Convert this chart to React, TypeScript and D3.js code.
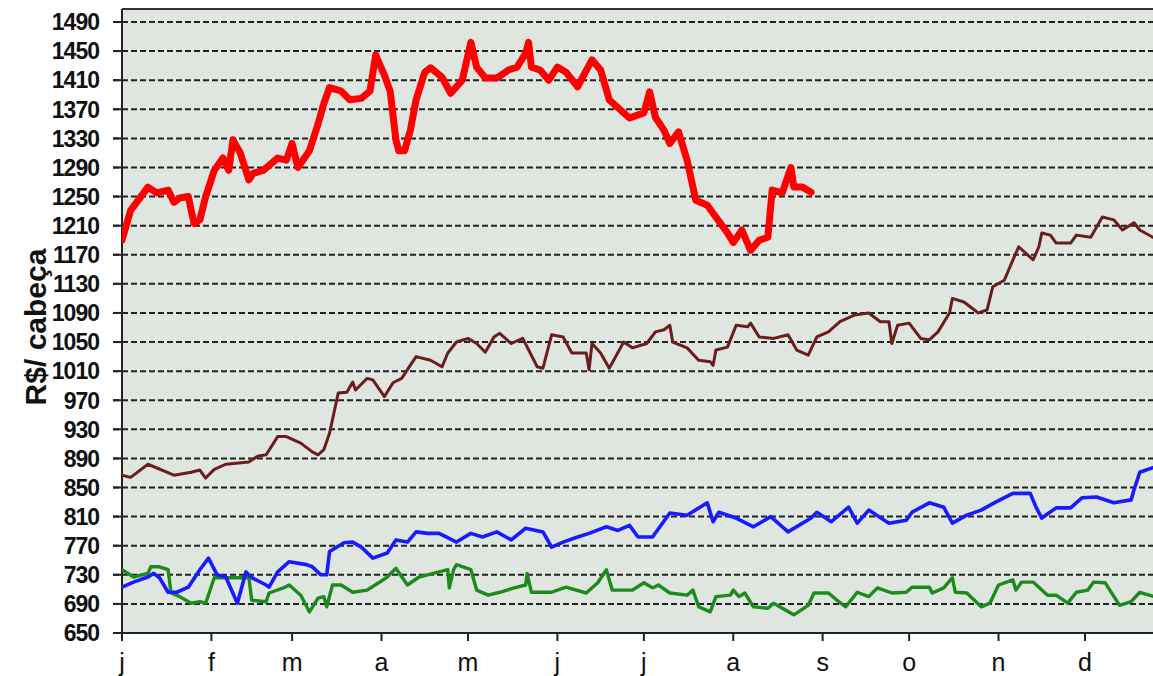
import React from "react";
import * as d3 from "d3";

// x = day of year (0 = 1 Jan), y = R$/cabeça
const monthLabels = ["j", "f", "m", "a", "m", "j", "j", "a", "s", "o", "n", "d"];
const monthStartDays = [0, 31, 59, 90, 120, 151, 181, 212, 243, 273, 304, 334];
const yTicks = d3.range(650, 1491, 40);

const redSeries: [number, number][] = [
  [0, 1190], [3, 1231], [9, 1263], [12, 1255], [16, 1259], [18, 1242], [20, 1248], [23, 1250], [24, 1231],
  [25, 1213], [27, 1218], [29, 1250], [32, 1286], [35, 1303], [37, 1286], [38.5, 1328], [41, 1310], [44, 1273],
  [45.5, 1282], [49, 1286], [54, 1303], [57, 1300], [59, 1323], [61, 1290], [65, 1313], [68, 1350], [70, 1378],
  [72, 1400], [76, 1395], [79, 1383], [83, 1385], [86, 1395], [88, 1445], [89, 1435], [91, 1417], [93, 1395],
  [95, 1328], [96, 1313], [98, 1313], [100, 1341], [102, 1383], [105, 1421], [107, 1427], [111, 1414],
  [114, 1392], [118, 1410], [121, 1462], [123, 1428], [126, 1413], [130, 1413], [134, 1424], [137, 1428],
  [140, 1447], [141, 1462], [142, 1428], [145, 1424], [148, 1410], [151, 1428], [154, 1421], [158, 1401],
  [163, 1438], [166, 1424], [169, 1383], [176, 1358], [181, 1365], [183, 1394], [185, 1359], [188, 1341],
  [190, 1323], [193, 1339], [196, 1300], [199, 1245], [203, 1238], [205, 1227], [210, 1200], [212, 1187],
  [215, 1204], [218, 1176], [221, 1190], [224, 1194], [225.5, 1259], [229, 1255], [232, 1290], [233, 1263],
  [236, 1263], [239, 1256],
];

const brownSeries: [number, number][] = [
  [0, 867], [3, 864], [9, 882], [18, 867], [24, 871], [27, 874], [29, 863], [32, 875], [36, 882], [44, 885],
  [47, 893], [50, 895], [54, 920], [57, 920], [62, 911], [66, 899], [68, 895], [70, 902], [72, 925], [75, 980],
  [78, 981], [80, 995], [81, 984], [85, 1000], [87, 998], [91, 975], [94, 994], [97, 1000], [99, 1012],
  [102, 1030], [107, 1025], [111, 1016], [113, 1035], [116, 1050], [120, 1055], [123, 1048], [126, 1036],
  [129, 1057], [131, 1062], [135, 1048], [139, 1055], [144, 1016], [146, 1014], [149, 1060], [153, 1057],
  [156, 1035], [161, 1035], [162, 1012], [163, 1048], [166, 1035], [169, 1014], [174, 1050], [177, 1042],
  [182, 1048], [185, 1064], [188, 1067], [190, 1073], [191, 1050], [196, 1042], [200, 1025], [204, 1023],
  [205, 1018], [206, 1039], [210, 1043], [213, 1073], [217, 1071], [218, 1076], [221, 1057], [226, 1055],
  [231, 1060], [234, 1039], [238, 1032], [241, 1057], [245, 1064], [249, 1078], [254, 1087], [259, 1090],
  [263, 1078], [266, 1078], [267, 1048], [269, 1073], [273, 1076], [277, 1055], [280, 1053], [283, 1064],
  [287, 1090], [288, 1110], [292, 1105], [297, 1090], [300, 1094], [302, 1126], [306, 1135], [309, 1163],
  [311, 1181], [316, 1163], [318, 1181], [319, 1200], [322, 1197], [324, 1186], [329, 1186], [331, 1197],
  [336, 1194], [338, 1208], [340, 1222], [344, 1218], [347, 1204], [351, 1214], [353, 1204], [358, 1193],
];

const blueSeries: [number, number][] = [
  [0, 713], [4, 720], [9, 727], [11, 732], [13, 726], [16, 706], [19, 706], [23, 713], [27, 737], [30, 753],
  [33, 730], [36, 727], [40, 691], [43, 734], [45, 726], [50, 716], [51, 713], [54, 734], [58, 748], [64, 744],
  [66, 741], [69, 730], [71, 730], [72, 762], [77, 774], [80, 775], [83, 768], [87, 753], [92, 760], [95, 778],
  [99, 775], [102, 789], [106, 787], [110, 787], [116, 775], [121, 787], [125, 782], [130, 789], [135, 778],
  [140, 794], [146, 789], [149, 768], [153, 775], [158, 782], [162, 787], [168, 796], [172, 791], [176, 798],
  [179, 782], [184, 782], [190, 815], [196, 812], [203, 829], [205, 803], [207, 816], [213, 808], [219, 796],
  [225, 810], [231, 789], [239, 808], [241, 816], [246, 803], [252, 823], [255, 801], [259, 819], [266, 801],
  [272, 805], [274, 816], [280, 829], [285, 823], [288, 801], [293, 812], [298, 819], [303, 830], [309, 842],
  [315, 842], [317, 823], [319, 808], [324, 822], [329, 822], [333, 836], [338, 837], [344, 829], [350, 833],
  [351, 847], [353, 871], [358, 878],
];

const greenSeries: [number, number][] = [
  [0, 737], [4, 727], [9, 732], [10, 741], [13, 741], [16, 737], [17, 705], [20, 700], [24, 691], [27, 693],
  [29, 691], [32, 726], [44, 726], [45, 695], [50, 693], [51, 705], [56, 712], [58, 716], [62, 702], [65, 679],
  [68, 698], [70, 700], [71, 686], [73, 716], [76, 716], [80, 706], [85, 709], [89, 719], [92, 727], [95, 739],
  [99, 716], [103, 727], [108, 732], [113, 737], [113.5, 712], [115, 737], [116, 744], [121, 737], [123, 709],
  [127, 702], [131, 706], [136, 712], [140, 716], [140.5, 732], [142, 706], [149, 706], [154, 713], [161, 705],
  [165, 719], [168, 737], [170, 709], [177, 709], [181, 719], [184, 712], [186, 716], [190, 705], [196, 702],
  [198, 709], [200, 686], [204, 679], [206, 700], [211, 702], [212, 709], [214, 700], [216, 705], [219, 686],
  [224, 684], [226, 691], [229, 684], [233, 675], [238, 688], [240, 705], [245, 705], [248, 695], [251, 686],
  [255, 706], [259, 700], [262, 712], [267, 705], [272, 706], [274, 713], [280, 713], [281, 705], [285, 712],
  [288, 726], [289, 706], [293, 705], [298, 686], [301, 691], [304, 716], [309, 723], [310, 709], [312, 720],
  [316, 720], [321, 702], [324, 702], [328, 691], [331, 706], [335, 709], [337, 720], [341, 719], [346, 688],
  [350, 693], [353, 706], [358, 700],
];

const W = 1153;
const H = 676;
const plotLeft = 122;
const plotTop = 9;
const plotBottom = 633;

export default function App() {
  const x = d3.scaleLinear().domain([0, 365]).range([plotLeft, plotLeft + 12 * 87.7]);
  const y = d3.scaleLinear().domain([650, 1490]).range([plotBottom, 22]);
  const line = d3
    .line<[number, number]>()
    .x((d) => x(d[0]))
    .y((d) => y(d[1]))
    .curve(d3.curveLinear);

  const series = [
    { data: brownSeries, color: "#6b1d1d", width: 3 },
    { data: greenSeries, color: "#1c8a1c", width: 3.4 },
    { data: blueSeries, color: "#1a1aff", width: 3.6 },
    { data: redSeries, color: "#ff0000", width: 7 },
  ];

  return (
    <svg
      width={W}
      height={H}
      style={{ position: "absolute", left: 0, top: 0, background: "#ffffff" }}
      fontFamily="'Liberation Sans', Arial, sans-serif"
    >
      <defs>
        <clipPath id="plotClip">
          <rect x={plotLeft} y={plotTop} width={W - plotLeft} height={plotBottom - plotTop} />
        </clipPath>
      </defs>
      <rect x={plotLeft} y={plotTop} width={W - plotLeft} height={plotBottom - plotTop} fill="#dfe6e0" />
      {yTicks.map((t) => (
        <line
          key={"g" + t}
          x1={113}
          x2={W}
          y1={y(t)}
          y2={y(t)}
          stroke="#222"
          strokeWidth={2}
          strokeDasharray={t === 650 ? undefined : "6 3"}
        />
      ))}
      {yTicks.map((t) => (
        <line key={"yt" + t} x1={113} x2={plotLeft} y1={y(t)} y2={y(t)} stroke="#222" strokeWidth={2} />
      ))}
      <line x1={plotLeft} x2={W} y1={plotTop} y2={plotTop} stroke="#333" strokeWidth={2} />
      <line x1={plotLeft} x2={plotLeft} y1={plotTop} y2={plotBottom + 1} stroke="#222" strokeWidth={2} />
      <line x1={plotLeft} x2={W} y1={plotBottom} y2={plotBottom} stroke="#222" strokeWidth={2} />
      {monthStartDays.map((d, i) => (
        <line key={"xt" + i} x1={x(d)} x2={x(d)} y1={plotBottom} y2={plotBottom + 8} stroke="#222" strokeWidth={2} />
      ))}
      <g clipPath="url(#plotClip)">
        {series.map((s, i) => (
          <path
            key={i}
            d={line(s.data) || ""}
            fill="none"
            stroke={s.color}
            strokeWidth={s.width}
            strokeLinejoin="round"
            strokeLinecap="round"
          />
        ))}
      </g>
      {yTicks.map((t) => (
        <text
          key={"yl" + t}
          x={99}
          y={y(t)}
          dy="0.36em"
          textAnchor="end"
          fontSize={23}
          fontWeight="bold"
          fill="#111"
          letterSpacing={-1}
        >
          {t}
        </text>
      ))}
      {monthLabels.map((m, i) => (
        <text key={"xl" + i} x={x(monthStartDays[i])} y={671} textAnchor="middle" fontSize={25} fill="#111">
          {m}
        </text>
      ))}
      <text
        transform={`translate(46, 327) rotate(-90)`}
        textAnchor="middle"
        fontSize={30}
        fontWeight="bold"
        fill="#111"
      >
        R$/ cabeça
      </text>
    </svg>
  );
}
